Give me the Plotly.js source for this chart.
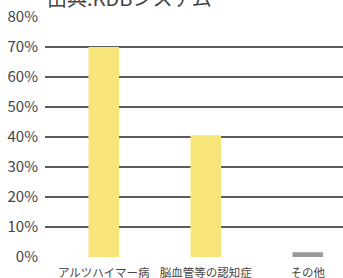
<!DOCTYPE html>
<html><head><meta charset="utf-8">
<script src="https://cdn.plot.ly/plotly-3.0.1.min.js"></script>
<style>html,body{margin:0;padding:0;background:#fff;}#chart{width:343px;height:278px;}</style>
</head><body><div id="chart"></div>
<script>
const categories = ["アルツハイマー病", "脳血管等の認知症", "その他"];
const values = [70.0, 40.6, 1.6];
const barColors = ["#F7E57A", "#F7E57A", "#9A9A9A"];
const yTicks = [0, 10, 20, 30, 40, 50, 60, 70, 80];
const yTickLabels = yTicks.map(v => v + "%");
const titleText = "出典:KDBシステム";

const font = "'Noto Sans CJK JP', 'Noto Sans', sans-serif";
Plotly.newPlot("chart", [{
  type: "bar",
  x: categories,
  y: values,
  width: 0.3,
  marker: {color: barColors},
  hoverinfo: "none"
}], {
  width: 343, height: 278,
  margin: {l: 45, r: 0, t: 17, b: 21, pad: 0},
  paper_bgcolor: "#fff", plot_bgcolor: "#fff",
  showlegend: false,
  title: {text: titleText, font: {family: font, size: 20, color: "#444"},
          xref: "container", yref: "container", x: 47/343, xanchor: "left",
          y: 1 - 6/278, yanchor: "bottom"},
  xaxis: {type: "category", range: [-0.576, 2.345], showgrid: false, zeroline: false,
          showline: false, ticks: "", ticklabelstandoff: 7,
          tickfont: {family: font, size: 11.5, color: "#444"}},
  yaxis: {range: [0, 80], tickvals: yTicks, ticktext: yTickLabels, showgrid: true,
          gridcolor: "#5c5c5c", gridwidth: 1.5, zeroline: false, showline: false, ticks: "",
          ticklabelstandoff: 6,
          tickfont: {family: font, size: 15, color: "#444"}},
  bargap: 0.7
}, {displayModeBar: false, staticPlot: true});
</script></body></html>
